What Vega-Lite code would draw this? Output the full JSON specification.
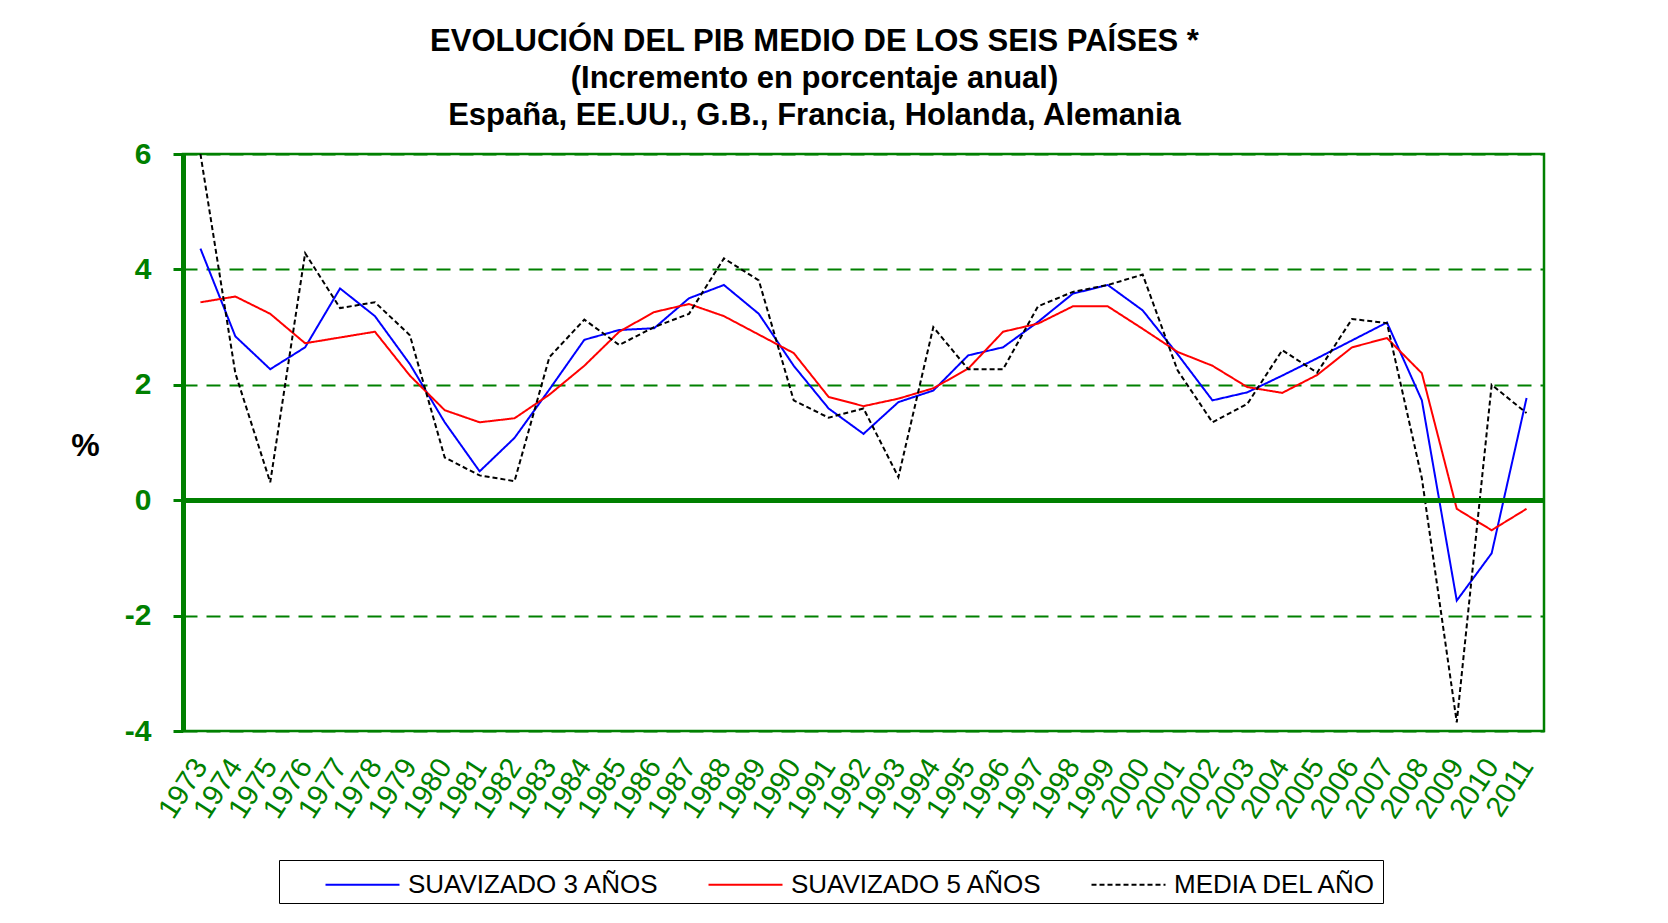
{
  "$schema": "https://vega.github.io/schema/vega-lite/v6.json",
  "width": 1361,
  "height": 577,
  "autosize": {"type": "none"},
  "padding": {"left": 183, "top": 154, "right": 124, "bottom": 192},
  "background": "white",
  "config": {
    "font": "Liberation Sans",
    "view": {"stroke": "#008000", "strokeWidth": 2.5}
  },
  "title": {
    "text": ["EVOLUCIÓN DEL PIB MEDIO DE LOS SEIS PAÍSES *", "(Incremento en porcentaje anual)", "España, EE.UU., G.B.,  Francia, Holanda, Alemania"],
    "font": "Liberation Sans",
    "fontSize": 31,
    "fontWeight": "bold",
    "color": "black",
    "anchor": "middle",
    "dx": -49,
    "offset": 7,
    "lineHeight": 37
  },
  "data": {
    "values": [
      {"anio": "1973", "serie": "SUAVIZADO 3 AÑOS", "valor": 4.36},
      {"anio": "1974", "serie": "SUAVIZADO 3 AÑOS", "valor": 2.84},
      {"anio": "1975", "serie": "SUAVIZADO 3 AÑOS", "valor": 2.27},
      {"anio": "1976", "serie": "SUAVIZADO 3 AÑOS", "valor": 2.65},
      {"anio": "1977", "serie": "SUAVIZADO 3 AÑOS", "valor": 3.67},
      {"anio": "1978", "serie": "SUAVIZADO 3 AÑOS", "valor": 3.19},
      {"anio": "1979", "serie": "SUAVIZADO 3 AÑOS", "valor": 2.36},
      {"anio": "1980", "serie": "SUAVIZADO 3 AÑOS", "valor": 1.35},
      {"anio": "1981", "serie": "SUAVIZADO 3 AÑOS", "valor": 0.5},
      {"anio": "1982", "serie": "SUAVIZADO 3 AÑOS", "valor": 1.08},
      {"anio": "1983", "serie": "SUAVIZADO 3 AÑOS", "valor": 1.92},
      {"anio": "1984", "serie": "SUAVIZADO 3 AÑOS", "valor": 2.78},
      {"anio": "1985", "serie": "SUAVIZADO 3 AÑOS", "valor": 2.95},
      {"anio": "1986", "serie": "SUAVIZADO 3 AÑOS", "valor": 2.98},
      {"anio": "1987", "serie": "SUAVIZADO 3 AÑOS", "valor": 3.5},
      {"anio": "1988", "serie": "SUAVIZADO 3 AÑOS", "valor": 3.73},
      {"anio": "1989", "serie": "SUAVIZADO 3 AÑOS", "valor": 3.23},
      {"anio": "1990", "serie": "SUAVIZADO 3 AÑOS", "valor": 2.33},
      {"anio": "1991", "serie": "SUAVIZADO 3 AÑOS", "valor": 1.59},
      {"anio": "1992", "serie": "SUAVIZADO 3 AÑOS", "valor": 1.15},
      {"anio": "1993", "serie": "SUAVIZADO 3 AÑOS", "valor": 1.7},
      {"anio": "1994", "serie": "SUAVIZADO 3 AÑOS", "valor": 1.9},
      {"anio": "1995", "serie": "SUAVIZADO 3 AÑOS", "valor": 2.51},
      {"anio": "1996", "serie": "SUAVIZADO 3 AÑOS", "valor": 2.65},
      {"anio": "1997", "serie": "SUAVIZADO 3 AÑOS", "valor": 3.09},
      {"anio": "1998", "serie": "SUAVIZADO 3 AÑOS", "valor": 3.58},
      {"anio": "1999", "serie": "SUAVIZADO 3 AÑOS", "valor": 3.73},
      {"anio": "2000", "serie": "SUAVIZADO 3 AÑOS", "valor": 3.29},
      {"anio": "2001", "serie": "SUAVIZADO 3 AÑOS", "valor": 2.53},
      {"anio": "2002", "serie": "SUAVIZADO 3 AÑOS", "valor": 1.73},
      {"anio": "2003", "serie": "SUAVIZADO 3 AÑOS", "valor": 1.87},
      {"anio": "2004", "serie": "SUAVIZADO 3 AÑOS", "valor": 2.16},
      {"anio": "2005", "serie": "SUAVIZADO 3 AÑOS", "valor": 2.46},
      {"anio": "2006", "serie": "SUAVIZADO 3 AÑOS", "valor": 2.77},
      {"anio": "2007", "serie": "SUAVIZADO 3 AÑOS", "valor": 3.08},
      {"anio": "2008", "serie": "SUAVIZADO 3 AÑOS", "valor": 1.73},
      {"anio": "2009", "serie": "SUAVIZADO 3 AÑOS", "valor": -1.74},
      {"anio": "2010", "serie": "SUAVIZADO 3 AÑOS", "valor": -0.92},
      {"anio": "2011", "serie": "SUAVIZADO 3 AÑOS", "valor": 1.77},
      {"anio": "1973", "serie": "SUAVIZADO 5 AÑOS", "valor": 3.43},
      {"anio": "1974", "serie": "SUAVIZADO 5 AÑOS", "valor": 3.53},
      {"anio": "1975", "serie": "SUAVIZADO 5 AÑOS", "valor": 3.23},
      {"anio": "1976", "serie": "SUAVIZADO 5 AÑOS", "valor": 2.72},
      {"anio": "1977", "serie": "SUAVIZADO 5 AÑOS", "valor": 2.82},
      {"anio": "1978", "serie": "SUAVIZADO 5 AÑOS", "valor": 2.92},
      {"anio": "1979", "serie": "SUAVIZADO 5 AÑOS", "valor": 2.16},
      {"anio": "1980", "serie": "SUAVIZADO 5 AÑOS", "valor": 1.56},
      {"anio": "1981", "serie": "SUAVIZADO 5 AÑOS", "valor": 1.35},
      {"anio": "1982", "serie": "SUAVIZADO 5 AÑOS", "valor": 1.42},
      {"anio": "1983", "serie": "SUAVIZADO 5 AÑOS", "valor": 1.83},
      {"anio": "1984", "serie": "SUAVIZADO 5 AÑOS", "valor": 2.33},
      {"anio": "1985", "serie": "SUAVIZADO 5 AÑOS", "valor": 2.92},
      {"anio": "1986", "serie": "SUAVIZADO 5 AÑOS", "valor": 3.26},
      {"anio": "1987", "serie": "SUAVIZADO 5 AÑOS", "valor": 3.4},
      {"anio": "1988", "serie": "SUAVIZADO 5 AÑOS", "valor": 3.19},
      {"anio": "1989", "serie": "SUAVIZADO 5 AÑOS", "valor": 2.87},
      {"anio": "1990", "serie": "SUAVIZADO 5 AÑOS", "valor": 2.55},
      {"anio": "1991", "serie": "SUAVIZADO 5 AÑOS", "valor": 1.79},
      {"anio": "1992", "serie": "SUAVIZADO 5 AÑOS", "valor": 1.63},
      {"anio": "1993", "serie": "SUAVIZADO 5 AÑOS", "valor": 1.76},
      {"anio": "1994", "serie": "SUAVIZADO 5 AÑOS", "valor": 1.94},
      {"anio": "1995", "serie": "SUAVIZADO 5 AÑOS", "valor": 2.28},
      {"anio": "1996", "serie": "SUAVIZADO 5 AÑOS", "valor": 2.92},
      {"anio": "1997", "serie": "SUAVIZADO 5 AÑOS", "valor": 3.06},
      {"anio": "1998", "serie": "SUAVIZADO 5 AÑOS", "valor": 3.36},
      {"anio": "1999", "serie": "SUAVIZADO 5 AÑOS", "valor": 3.36},
      {"anio": "2000", "serie": "SUAVIZADO 5 AÑOS", "valor": 2.97},
      {"anio": "2001", "serie": "SUAVIZADO 5 AÑOS", "valor": 2.57},
      {"anio": "2002", "serie": "SUAVIZADO 5 AÑOS", "valor": 2.33},
      {"anio": "2003", "serie": "SUAVIZADO 5 AÑOS", "valor": 1.96},
      {"anio": "2004", "serie": "SUAVIZADO 5 AÑOS", "valor": 1.86},
      {"anio": "2005", "serie": "SUAVIZADO 5 AÑOS", "valor": 2.17},
      {"anio": "2006", "serie": "SUAVIZADO 5 AÑOS", "valor": 2.65},
      {"anio": "2007", "serie": "SUAVIZADO 5 AÑOS", "valor": 2.81},
      {"anio": "2008", "serie": "SUAVIZADO 5 AÑOS", "valor": 2.2},
      {"anio": "2009", "serie": "SUAVIZADO 5 AÑOS", "valor": -0.15},
      {"anio": "2010", "serie": "SUAVIZADO 5 AÑOS", "valor": -0.52},
      {"anio": "2011", "serie": "SUAVIZADO 5 AÑOS", "valor": -0.15},
      {"anio": "1973", "serie": "MEDIA DEL AÑO", "valor": 6.0},
      {"anio": "1974", "serie": "MEDIA DEL AÑO", "valor": 2.2},
      {"anio": "1975", "serie": "MEDIA DEL AÑO", "valor": 0.31},
      {"anio": "1976", "serie": "MEDIA DEL AÑO", "valor": 4.28},
      {"anio": "1977", "serie": "MEDIA DEL AÑO", "valor": 3.33},
      {"anio": "1978", "serie": "MEDIA DEL AÑO", "valor": 3.43},
      {"anio": "1979", "serie": "MEDIA DEL AÑO", "valor": 2.86},
      {"anio": "1980", "serie": "MEDIA DEL AÑO", "valor": 0.74},
      {"anio": "1981", "serie": "MEDIA DEL AÑO", "valor": 0.43},
      {"anio": "1982", "serie": "MEDIA DEL AÑO", "valor": 0.33},
      {"anio": "1983", "serie": "MEDIA DEL AÑO", "valor": 2.48},
      {"anio": "1984", "serie": "MEDIA DEL AÑO", "valor": 3.13},
      {"anio": "1985", "serie": "MEDIA DEL AÑO", "valor": 2.69},
      {"anio": "1986", "serie": "MEDIA DEL AÑO", "valor": 3.0},
      {"anio": "1987", "serie": "MEDIA DEL AÑO", "valor": 3.23},
      {"anio": "1988", "serie": "MEDIA DEL AÑO", "valor": 4.19},
      {"anio": "1989", "serie": "MEDIA DEL AÑO", "valor": 3.81},
      {"anio": "1990", "serie": "MEDIA DEL AÑO", "valor": 1.73},
      {"anio": "1991", "serie": "MEDIA DEL AÑO", "valor": 1.43},
      {"anio": "1992", "serie": "MEDIA DEL AÑO", "valor": 1.59},
      {"anio": "1993", "serie": "MEDIA DEL AÑO", "valor": 0.4},
      {"anio": "1994", "serie": "MEDIA DEL AÑO", "valor": 3.0},
      {"anio": "1995", "serie": "MEDIA DEL AÑO", "valor": 2.27},
      {"anio": "1996", "serie": "MEDIA DEL AÑO", "valor": 2.27},
      {"anio": "1997", "serie": "MEDIA DEL AÑO", "valor": 3.36},
      {"anio": "1998", "serie": "MEDIA DEL AÑO", "valor": 3.61},
      {"anio": "1999", "serie": "MEDIA DEL AÑO", "valor": 3.73},
      {"anio": "2000", "serie": "MEDIA DEL AÑO", "valor": 3.91},
      {"anio": "2001", "serie": "MEDIA DEL AÑO", "valor": 2.25},
      {"anio": "2002", "serie": "MEDIA DEL AÑO", "valor": 1.35},
      {"anio": "2003", "serie": "MEDIA DEL AÑO", "valor": 1.67},
      {"anio": "2004", "serie": "MEDIA DEL AÑO", "valor": 2.6},
      {"anio": "2005", "serie": "MEDIA DEL AÑO", "valor": 2.21},
      {"anio": "2006", "serie": "MEDIA DEL AÑO", "valor": 3.14},
      {"anio": "2007", "serie": "MEDIA DEL AÑO", "valor": 3.07},
      {"anio": "2008", "serie": "MEDIA DEL AÑO", "valor": 0.38},
      {"anio": "2009", "serie": "MEDIA DEL AÑO", "valor": -3.85},
      {"anio": "2010", "serie": "MEDIA DEL AÑO", "valor": 2.0},
      {"anio": "2011", "serie": "MEDIA DEL AÑO", "valor": 1.51}
    ]
  },
  "layer": [
    {
      "mark": {"type": "line", "strokeWidth": 2, "clip": true},
      "encoding": {
        "x": {
          "field": "anio",
          "type": "ordinal",
          "scale": {"type": "point", "padding": 0.5},
          "axis": {
            "title": null,
            "labelAngle": -57,
            "labelAlign": "right",
            "labelBaseline": "middle",
            "labelFontSize": 29,
            "labelColor": "#008000",
            "labelPadding": 30,
            "ticks": false,
            "domain": false,
            "grid": false
          }
        },
        "y": {
          "field": "valor",
          "type": "quantitative",
          "scale": {"domain": [-4, 6], "nice": false, "zero": false},
          "axis": {
            "values": [-4, -2, 0, 2, 4, 6],
            "labelExpr": "'' + datum.value",
            "title": "%",
            "titleAngle": 0,
            "titleFontSize": 32,
            "titleFontWeight": "bold",
            "titleColor": "black",
            "titleX": -98,
            "titleY": 291,
            "titleAlign": "center",
            "titleBaseline": "middle",
            "labelFontSize": 30,
            "labelFontWeight": "bold",
            "labelColor": "#008000",
            "labelPadding": 22,
            "tickSize": 10,
            "tickWidth": 3,
            "tickColor": "#008000",
            "domainColor": "#008000",
            "domainWidth": 5,
            "grid": true,
            "gridColor": "#008000",
            "gridWidth": 2,
            "gridDash": [14, 9],
            "gridOpacity": 1
          }
        },
        "color": {
          "field": "serie",
          "type": "nominal",
          "scale": {
            "domain": ["SUAVIZADO 3 AÑOS", "SUAVIZADO 5 AÑOS", "MEDIA DEL AÑO"],
            "range": ["#0000FF", "#FF0000", "#000000"]
          },
          "legend": {
            "title": null,
            "orient": "none",
            "direction": "horizontal",
            "columns": 3,
            "legendX": 96,
            "legendY": 706,
            "strokeColor": "black",
            "padding": 5,
            "symbolType": "M-2,0H2",
            "symbolSize": 1369,
            "symbolStrokeWidth": 2,
            "symbolOffset": 59,
            "labelFontSize": 26,
            "labelColor": "black",
            "labelOffset": 26,
            "labelLimit": 500,
            "labelExpr": "datum.label == 'MEDIA DEL AÑO' ? datum.label + '          ' : datum.label",
            "columnPadding": 8
          }
        },
        "strokeDash": {
          "field": "serie",
          "type": "nominal",
          "scale": {
            "domain": ["SUAVIZADO 3 AÑOS", "SUAVIZADO 5 AÑOS", "MEDIA DEL AÑO"],
            "range": [[1, 0], [1, 0], [5, 3]]
          },
          "legend": {
            "title": null,
            "orient": "none",
            "direction": "horizontal",
            "columns": 3,
            "legendX": 96,
            "legendY": 706,
            "strokeColor": "black",
            "padding": 5,
            "symbolType": "M-2,0H2",
            "symbolSize": 1369,
            "symbolStrokeWidth": 2,
            "symbolOffset": 59,
            "labelFontSize": 26,
            "labelColor": "black",
            "labelOffset": 26,
            "labelLimit": 500,
            "labelExpr": "datum.label == 'MEDIA DEL AÑO' ? datum.label + '          ' : datum.label",
            "columnPadding": 8
          }
        }
      }
    },
    {
      "mark": {"type": "rule", "color": "#008000", "strokeWidth": 4},
      "encoding": {"y": {"datum": 0, "type": "quantitative"}}
    }
  ]
}
